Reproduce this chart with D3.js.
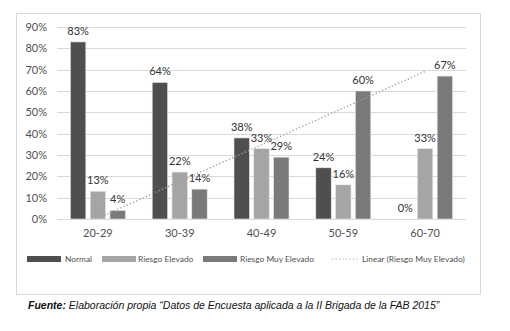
<!DOCTYPE html>
<html lang="es">
<head>
<meta charset="UTF-8">
<title>Riesgo por grupo de edad</title>
<script src="https://d3js.org/d3.v7.min.js"></script>
<style>
  body { margin: 0; background: #fff; }
  svg text { font-family: Lato, "Open Sans", sans-serif; }
  .lbl { font-size: 11px; fill: #333; }
  .tick text { font-size: 11px; fill: #505050; }
  .leg { font-size: 8.4px; fill: #505050; }
  .caption { font-family: "Liberation Sans", Arial, sans-serif; font-size: 10.5px; font-style: italic; fill: #111; }
</style>
</head>
<body>
<svg width="510" height="331"></svg>
<script>
// data
const categories = ["20-29", "30-39", "40-49", "50-59", "60-70"];
const seriesNames = ["Normal", "Riesgo Elevado", "Riesgo Muy Elevado"];
const normal = [83, 64, 38, 24, 0];
const riesgoElevado = [13, 22, 33, 16, 33];
const riesgoMuyElevado = [4, 14, 29, 60, 67];
const yTicks = [0, 10, 20, 30, 40, 50, 60, 70, 80, 90];

const colors = ["#4f4f4f", "#a5a5a5", "#7a7a7a"];
const seriesValues = [normal, riesgoElevado, riesgoMuyElevado];

const svg = d3.select("svg");

// outer frame
svg.append("rect")
  .attr("x", 16.5).attr("y", 13.5)
  .attr("width", 464).attr("height", 281)
  .attr("fill", "none").attr("stroke", "#d9d9d9");

const plot = { left: 57, right: 466, top: 27, bottom: 219 };

const x = d3.scaleBand().domain(categories).range([plot.left, plot.right]);
const xs = d3.scaleBand().domain(d3.range(3)).range([-27.5, 27.5]).paddingInner(0.22);
const y = d3.scaleLinear().domain([0, 90]).range([plot.bottom, plot.top]);

// gridlines
svg.append("g").selectAll("line")
  .data(yTicks).join("line")
  .attr("x1", plot.left).attr("x2", plot.right)
  .attr("y1", d => Math.round(y(d)) + 0.5).attr("y2", d => Math.round(y(d)) + 0.5)
  .attr("stroke", "#d9d9d9").attr("stroke-width", 1);

// y axis labels
const yAxis = svg.append("g")
  .attr("transform", `translate(${plot.left},0)`)
  .call(d3.axisLeft(y).tickValues(yTicks).tickFormat(d => d + "%").tickSize(0).tickPadding(10));
yAxis.select(".domain").remove();

// x axis labels
const xAxis = svg.append("g")
  .attr("transform", `translate(0,${plot.bottom})`)
  .call(d3.axisBottom(x).tickSize(0).tickPadding(10));
xAxis.select(".domain").remove();

// bars
seriesValues.forEach((vals, si) => {
  const g = svg.append("g");
  g.selectAll("rect")
    .data(vals).join("rect")
    .attr("x", (d, i) => x(categories[i]) + x.bandwidth() / 2 + xs(si))
    .attr("y", d => y(d))
    .attr("width", xs.bandwidth())
    .attr("height", d => y(0) - y(d))
    .attr("fill", colors[si])
    .attr("stroke", d => d > 0 ? "#e8e8e8" : "none")
    .attr("stroke-width", 0.6);
  g.selectAll("text")
    .data(vals).join("text")
    .attr("class", "lbl")
    .attr("x", (d, i) => x(categories[i]) + x.bandwidth() / 2 + xs(si) + xs.bandwidth() / 2)
    .attr("y", d => y(d) - 7)
    .attr("text-anchor", "middle")
    .text(d => d + "%");
});

// linear trend for Riesgo Muy Elevado
const idx = d3.range(riesgoMuyElevado.length).map(i => i + 1);
const mx = d3.mean(idx), my = d3.mean(riesgoMuyElevado);
const slope = d3.sum(idx, (v, i) => (v - mx) * (riesgoMuyElevado[i] - my)) / d3.sum(idx, v => (v - mx) ** 2);
const intercept = my - slope * mx;
svg.append("line")
  .attr("x1", x(categories[0]) + x.bandwidth() / 2)
  .attr("y1", y(intercept + slope * 1))
  .attr("x2", x(categories[4]) + x.bandwidth() / 2)
  .attr("y2", y(intercept + slope * 5))
  .attr("stroke", "#a0a0a0").attr("stroke-width", 1.5)
  .attr("stroke-dasharray", "1.2,2.3");

// legend
const legY = 259;
const legItems = [
  { name: seriesNames[0], sx: 27, tx: 65 },
  { name: seriesNames[1], sx: 102, tx: 138 },
  { name: seriesNames[2], sx: 203, tx: 240 }
];
legItems.forEach((it, i) => {
  svg.append("rect")
    .attr("x", it.sx).attr("y", legY - 3)
    .attr("width", 34).attr("height", 6)
    .attr("fill", colors[i]);
  svg.append("text").attr("class", "leg")
    .attr("x", it.tx).attr("y", legY + 3)
    .text(it.name);
});
svg.append("line")
  .attr("x1", 332).attr("x2", 359)
  .attr("y1", legY).attr("y2", legY)
  .attr("stroke", "#a0a0a0").attr("stroke-width", 1.2)
  .attr("stroke-dasharray", "1.2,2.3");
svg.append("text").attr("class", "leg")
  .attr("x", 362).attr("y", legY + 3)
  .text("Linear (Riesgo Muy Elevado)");

// caption
const cap = svg.append("text").attr("class", "caption")
  .attr("x", 28).attr("y", 309);
cap.append("tspan").attr("font-weight", "bold").text("Fuente:");
cap.append("tspan").text(" Elaboración propia “Datos de Encuesta aplicada a la II Brigada de la FAB 2015”");
</script>
</body>
</html>
